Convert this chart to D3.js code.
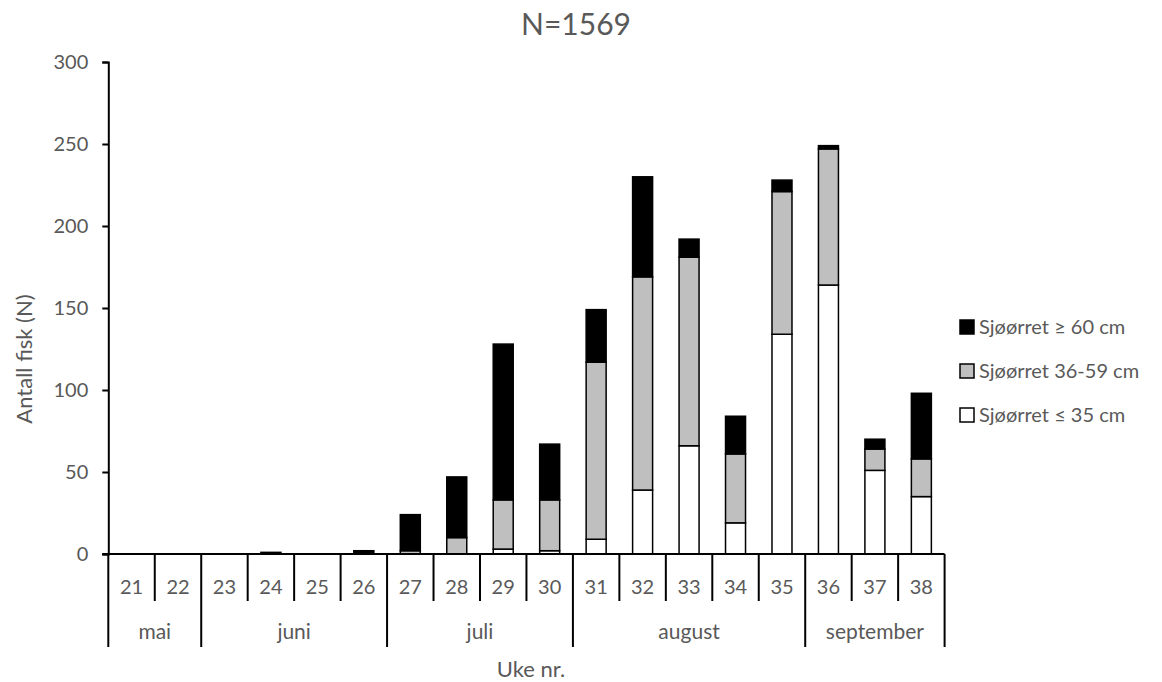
<!DOCTYPE html>
<html>
<head>
<meta charset="utf-8">
<script src="https://cdn.jsdelivr.net/npm/d3@7"></script>
<style>
  html, body { margin: 0; padding: 0; background: #fff; }
  svg { display: block; }
  text { font-family: Lato, "Open Sans", sans-serif; fill: #595959; }
</style>
</head>
<body>
<svg id="chart" width="1162" height="682"></svg>
<script>
// Weekly counts of sea trout by length class
const weeks = ["21","22","23","24","25","26","27","28","29","30","31","32","33","34","35","36","37","38"];
const small = [0,0,0,0,0,0,0,0,3,2,9,39,66,19,134,164,51,35];      // ≤ 35 cm
const medium = [0,0,0,0,0,0,2,10,30,31,108,130,115,42,87,83,13,23]; // 36-59 cm
const large = [0,0,0,1,0,2,22,37,95,34,32,61,11,23,7,2,6,40];       // ≥ 60 cm

const months = ["mai","juni","juli","august","september"];
const monthSpans = [2,4,4,5,3];
const yTicks = [0,50,100,150,200,250,300];

const seriesKeys = ["small","medium","large"];
const seriesLabels = ["Sjøørret ≤ 35 cm","Sjøørret 36-59 cm","Sjøørret ≥ 60 cm"];
const seriesFill = ["#ffffff","#bfbfbf","#000000"];

const total = d3.sum(small) + d3.sum(medium) + d3.sum(large);

const rows = weeks.map((w, i) => ({ week: w, small: small[i], medium: medium[i], large: large[i] }));

const svg = d3.select("#chart");
const plotLeft = 108.3, plotRight = 944.6, plotTop = 62, plotBottom = 554;

const step = (plotRight - plotLeft) / weeks.length;
const barW = 20;
const pad = 1 - barW / step;
const x = d3.scaleBand().domain(weeks).range([plotLeft, plotRight]).paddingInner(pad).paddingOuter(pad / 2);
const y = d3.scaleLinear().domain([0, 300]).range([plotBottom, plotTop]);

const stacked = d3.stack().keys(seriesKeys)(rows);

// Stacked bars
svg.append("g").selectAll("g")
  .data(stacked)
  .join("g")
  .attr("fill", (d, i) => seriesFill[i])
  .selectAll("rect")
  .data(d => d.filter(s => s[1] - s[0] > 0))
  .join("rect")
  .attr("x", d => x(d.data.week))
  .attr("width", x.bandwidth())
  .attr("y", d => y(d[1]))
  .attr("height", d => y(d[0]) - y(d[1]))
  .attr("stroke", "#000")
  .attr("stroke-width", 1.5);

// Y axis
const yAxis = d3.axisLeft(y).tickValues(yTicks).tickSize(6).tickPadding(14);
const gy = svg.append("g").attr("transform", `translate(${plotLeft},0)`).call(yAxis);
gy.select(".domain").attr("stroke", "#000").attr("stroke-width", 2);
gy.selectAll(".tick line").attr("stroke", "#000").attr("stroke-width", 2);
gy.selectAll(".tick text").attr("font-size", 20).attr("font-family", "Lato").attr("fill", "#595959");

// X axis: baseline, week dividers and month dividers
const gx = svg.append("g");
gx.append("line")
  .attr("x1", plotLeft - 6).attr("x2", plotRight)
  .attr("y1", plotBottom).attr("y2", plotBottom)
  .attr("stroke", "#000").attr("stroke-width", 2);

const monthBounds = [0];
monthSpans.forEach(s => monthBounds.push(monthBounds[monthBounds.length - 1] + s));
const boundaryX = i => plotLeft + i * x.step();

d3.range(weeks.length + 1).forEach(i => {
  const isMonth = monthBounds.includes(i);
  gx.append("line")
    .attr("x1", boundaryX(i)).attr("x2", boundaryX(i))
    .attr("y1", plotBottom).attr("y2", isMonth ? 647 : 601)
    .attr("stroke", "#000").attr("stroke-width", 2);
});

gx.selectAll("text.week")
  .data(weeks)
  .join("text")
  .attr("class", "week")
  .attr("x", d => x(d) + x.bandwidth() / 2)
  .attr("y", 594)
  .attr("text-anchor", "middle")
  .attr("font-size", 20)
  .text(d => d);

gx.selectAll("text.month")
  .data(months)
  .join("text")
  .attr("class", "month")
  .attr("x", (d, i) => (boundaryX(monthBounds[i]) + boundaryX(monthBounds[i + 1])) / 2)
  .attr("y", 639)
  .attr("text-anchor", "middle")
  .attr("font-size", 21)
  .text(d => d);

// Axis titles and chart title
svg.append("text")
  .attr("x", 531).attr("y", 677)
  .attr("text-anchor", "middle").attr("font-size", 22)
  .text("Uke nr.");

svg.append("text")
  .attr("transform", "translate(32,359) rotate(-90)")
  .attr("text-anchor", "middle").attr("font-size", 22)
  .text("Antall fisk (N)");

svg.append("text")
  .attr("x", 576).attr("y", 35)
  .attr("text-anchor", "middle").attr("font-size", 30)
  .text("N=" + total);

// Legend (largest class on top)
const legendOrder = [2, 1, 0];
const lg = svg.append("g");
legendOrder.forEach((si, row) => {
  const base = 334 + row * 44;
  lg.append("rect")
    .attr("x", 960).attr("y", base - 14)
    .attr("width", 14).attr("height", 14)
    .attr("fill", seriesFill[si])
    .attr("stroke", "#000").attr("stroke-width", 1.5);
  lg.append("text")
    .attr("x", 979).attr("y", base)
    .attr("font-size", 20)
    .text(seriesLabels[si]);
});
</script>
</body>
</html>
